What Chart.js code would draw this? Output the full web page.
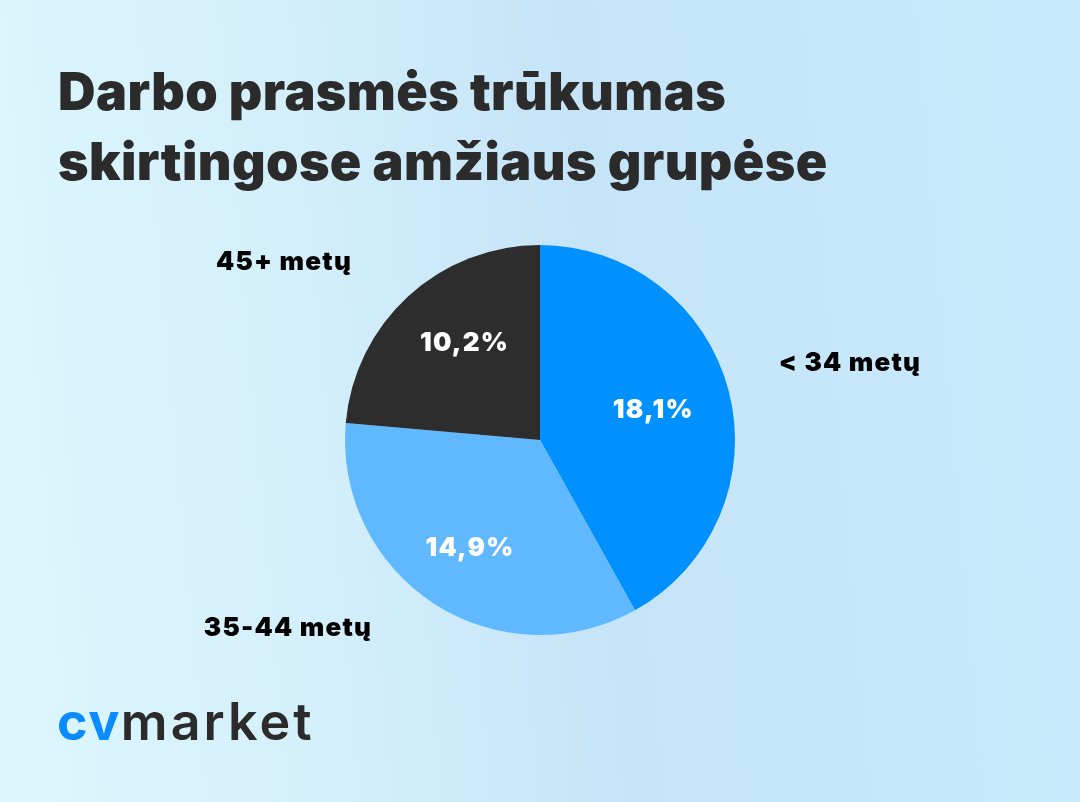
<!DOCTYPE html>
<html><head><meta charset="utf-8">
<script src="https://cdn.jsdelivr.net/npm/chart.js@4.4.0/dist/chart.umd.min.js"></script>
<style>
html,body{margin:0;padding:0;}
body{width:1080px;height:802px;overflow:hidden;position:relative;
 background:linear-gradient(85deg,#ddf7fd 0%,#d3effb 30%,#c6e4f8 55%,#c6e8fa 80%,#c7ebfc 100%);
 font-family:Inter,"Noto Sans",sans-serif;}
#title{position:absolute;left:58px;top:57px;margin:0;font-weight:900;font-size:52px;line-height:70px;color:#2b2b2b;letter-spacing:0.4px;}
#logo{position:absolute;left:57px;top:690px;font-weight:600;font-size:52px;letter-spacing:3px;color:#2b2b2b;}
#logo span{color:#0a8cff;font-weight:700;letter-spacing:1.5px;}
canvas{position:absolute;left:0;top:0;}
</style></head>
<body>
<h1 id="title">Darbo prasmės trūkumas<br>skirtingose amžiaus grupėse</h1>
<div id="logo"><span>cv</span>market</div>
<canvas id="c" width="1080" height="802"></canvas>
<script>
const categories = ["< 34 metų", "35-44 metų", "45+ metų"];
const values = [18.1, 14.9, 10.2];
const valueLabels = ["18,1%", "14,9%", "10,2%"];
const colors = ["#0091ff", "#60b9ff", "#2d2d2d"];
// outer label centers (style/layout)
const outerPos = [[850,363],[288,628],[284,262]];
const innerFrac = [0.6, 0.66, 0.63];
const innerAngleShift = [0, 0, 0.08];

const labelPlugin = {
  id:'labels',
  afterDatasetsDraw(chart){
    const ctx = chart.ctx;
    const meta = chart.getDatasetMeta(0);
    ctx.save();
    ctx.textAlign='center';ctx.textBaseline='middle';
    ctx.letterSpacing='1.2px';
    meta.data.forEach((arc,i)=>{
      const p = arc.getProps(['x','y','startAngle','endAngle','outerRadius']);
      const mid=(p.startAngle+p.endAngle)/2+innerAngleShift[i];
      const r=p.outerRadius*innerFrac[i];
      ctx.fillStyle='#ffffff';
      ctx.font='900 26px Inter, sans-serif';
      ctx.fillText(valueLabels[i], p.x+Math.cos(mid)*r, p.y+Math.sin(mid)*r);
      ctx.fillStyle='#000000';
      ctx.font='900 26px Inter, sans-serif';
      ctx.fillText(categories[i], outerPos[i][0], outerPos[i][1]);
    });
    ctx.restore();
  }
};

new Chart(document.getElementById('c'),{
  type:'pie',
  data:{labels:categories,datasets:[{data:values,backgroundColor:colors,borderWidth:0}]},
  options:{responsive:false,animation:false,
    layout:{padding:{left:345,right:345,top:245,bottom:167}},
    plugins:{legend:{display:false},tooltip:{enabled:false}}},
  plugins:[labelPlugin]
});
</script>
</body></html>
